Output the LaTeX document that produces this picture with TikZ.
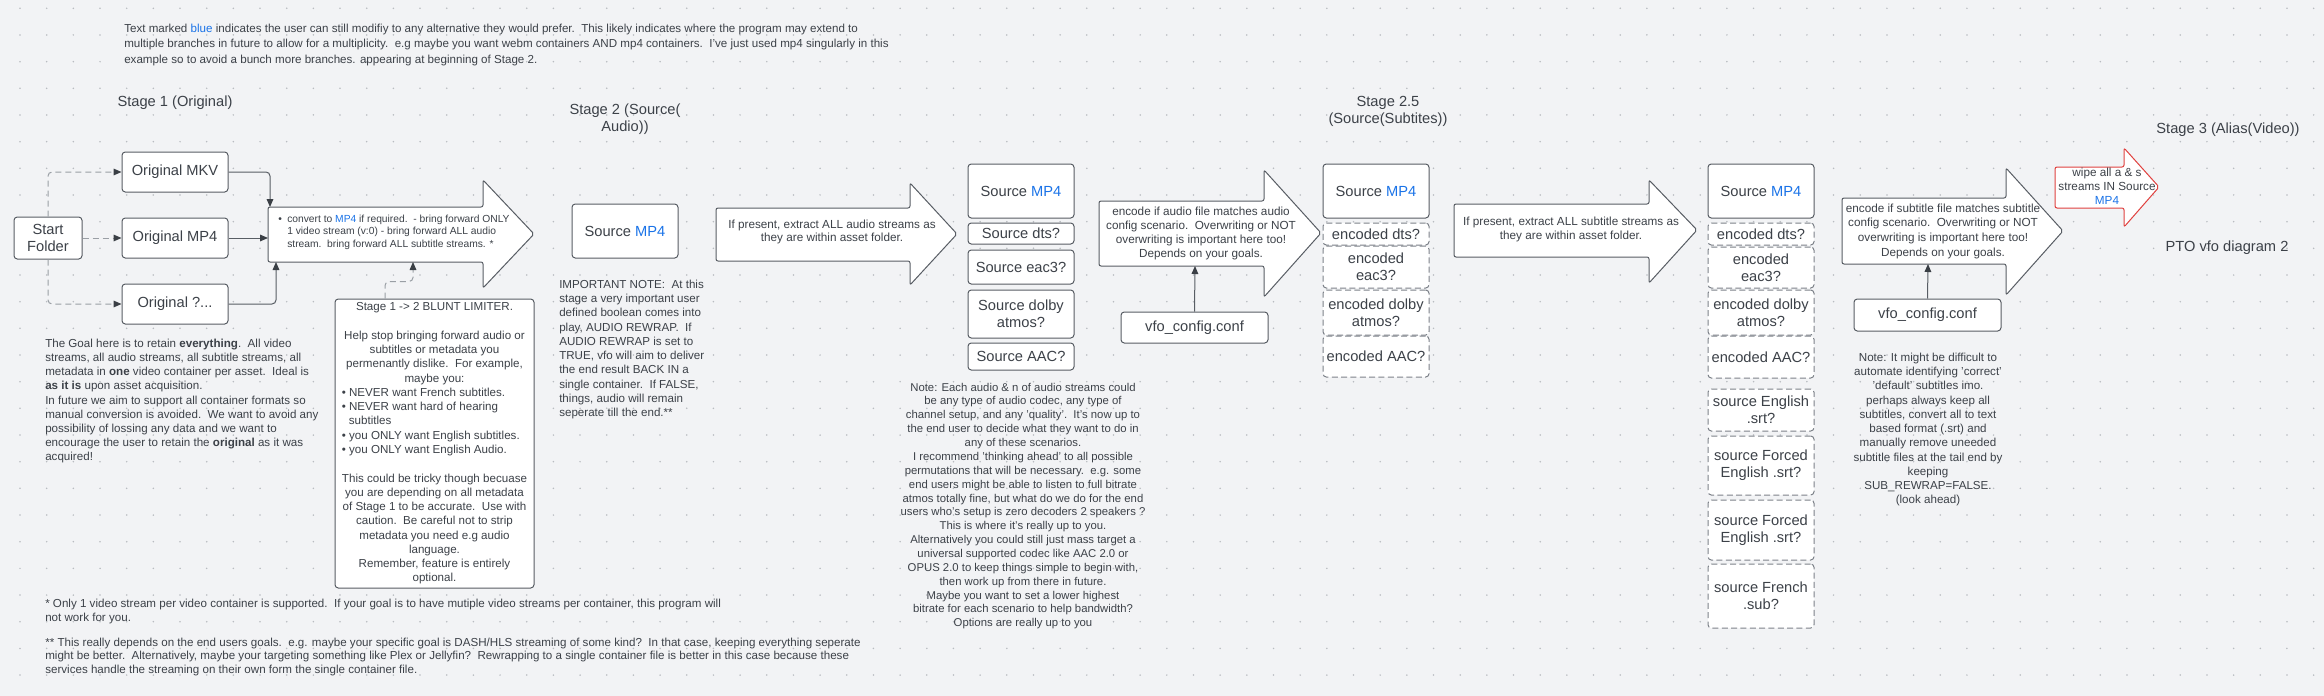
\documentclass[tikz,border=0pt]{standalone}
\usepackage{fontspec}
\setmainfont{Liberation Sans}
\usepackage{tikz}
\usetikzlibrary{arrows.meta}

\definecolor{bggrey}{HTML}{F2F3F5}
\definecolor{dotgrey}{HTML}{B9BCC1}
\definecolor{linegrey}{HTML}{585D64}
\definecolor{dashgrey}{HTML}{7D8289}
\definecolor{linkgrey}{HTML}{9A9FA5}
\definecolor{tipgrey}{HTML}{3A3F45}
\definecolor{txtgrey}{HTML}{3C4148}
\definecolor{mpblue}{HTML}{1A73E8}
\definecolor{wipered}{HTML}{E0413F}

\newlength{\pxu}
\setlength{\pxu}{0.75pt}
\newcommand{\bluemp}{\textcolor{mpblue}{MP4}}

\begin{document}
\begin{tikzpicture}[x=0.75pt, y=-0.75pt,
    % node attributes
    every node/.style = {text=txtgrey},
    srcbox/.style = {
        draw=linegrey,
        fill=white,
        rounded corners=2.5pt,
        line width=0.75pt,
        align=center,
        inner sep=0pt,
        font=\fontsize{11}{13}\selectfont},
    dashbox/.style = {srcbox, draw=dashgrey, dash pattern=on 4.5pt off 2.5pt},
    stagetitle/.style = {align=center, font=\fontsize{11}{12.75}\selectfont},
    notetext/.style = {inner sep=0pt, font=\fontsize{8.7}{10.65}\selectfont},
    % block arrows and connectors
    bigarrow/.style = {draw=linegrey, fill=white, line width=0.75pt, rounded corners=1.5pt},
    link/.style = {draw=linegrey, line width=0.75pt, rounded corners=3pt,
        -{Triangle[length=6pt, width=5pt, color=tipgrey]}},
    dashlink/.style = {link, draw=linkgrey, dash pattern=on 4.5pt off 3pt}]

    % canvas with dot grid
    \useasboundingbox (0,0) rectangle (2324,696);
    \fill[bggrey] (0,0) rectangle (2324,696);
    \foreach \i in {0,...,86}
        \foreach \j in {0,...,25}
            \fill[dotgrey] ({20+26.67*\i},{8.3+26.67*\j}) circle (0.65pt);

    % header note
    \node[notetext, font=\fontsize{8.7}{11.6}\selectfont, anchor=north west, align=left] (header) at (124,23.6)
        {Text marked \textcolor{mpblue}{blue} indicates the user can still modifiy to any alternative they would prefer.\ \ This likely indicates where the program may extend to\\
         multiple branches in future to allow for a multiplicity.\ \ e.g maybe you want webm containers AND mp4 containers.\ \ I've just used mp4 singularly in this\\
         example so to avoid a bunch more branches. appearing at beginning of Stage 2.};

    % stage titles
    \node[stagetitle] (stageone) at (175,103) {Stage 1 (Original)};
    \node[stagetitle] (stagetwo) at (625,119.5) {Stage 2 (Source(\\Audio))};
    \node[stagetitle] (stagetwofive) at (1388,111) {Stage 2.5\\(Source(Subtites))};
    \node[stagetitle] (stagethree) at (2228,130) {Stage 3 (Alias(Video))};
    \node[stagetitle] (pto) at (2227,248) {PTO vfo diagram 2};

    % stage 1 containers
    \node[srcbox, minimum width=68\pxu, minimum height=42\pxu] (start) at (48,238) {Start\\Folder};
    \node[srcbox, minimum width=106\pxu, minimum height=40\pxu] (mkv) at (175,172) {Original MKV};
    \node[srcbox, minimum width=106\pxu, minimum height=40\pxu] (mpfour) at (175,238) {Original MP4};
    \node[srcbox, minimum width=106\pxu, minimum height=40\pxu] (other) at (175,304) {Original ?...};

    % block arrows
    \draw[bigarrow] (268,207) -- (483,207) -- (483,180) -- (534,234) -- (483,288) -- (483,262) -- (268,262) -- cycle;
    \draw[bigarrow] (716,208) -- (910,208) -- (910,183) -- (957,234) -- (910,285) -- (910,261) -- (716,261) -- cycle;
    \draw[bigarrow] (1099,201) -- (1264,201) -- (1264,170) -- (1321,233) -- (1264,297) -- (1264,266) -- (1099,266) -- cycle;
    \draw[bigarrow] (1454,204) -- (1649,204) -- (1649,180) -- (1697,230) -- (1649,283) -- (1649,257) -- (1454,257) -- cycle;
    \draw[bigarrow] (1842,198) -- (2006,198) -- (2006,168) -- (2063,231) -- (2006,295) -- (2006,264) -- (1842,264) -- cycle;
    \draw[bigarrow, draw=wipered] (2055,167) -- (2124,167) -- (2124,148) -- (2159,187) -- (2124,227) -- (2124,208) -- (2055,208) -- cycle;

    \coordinate (a1mkv) at (270,207);
    \coordinate (a1mp) at (268,238);
    \coordinate (a1oth) at (276,262);
    \coordinate (a1lim) at (413,262);
    \coordinate (a3conf) at (1195,266);
    \coordinate (a5conf) at (1928,264);

    % block arrow texts
    \node[notetext, font=\fontsize{7.7}{9.4}\selectfont, anchor=north west, align=left] (convtext) at (278,214.5)
        {\makebox[6.75pt][l]{\textbullet}convert to \bluemp{} if required.\ \ - bring forward ONLY\\
         \hspace*{6.75pt}1 video stream (v:0) - bring forward ALL audio\\
         \hspace*{6.75pt}stream.\ \ bring forward ALL subtitle streams. *};
    \node[notetext, font=\fontsize{8.8}{9.75}\selectfont, align=center] (extracttext) at (832,231.5)
        {If present, extract ALL audio streams as\\they are within asset folder.};
    \node[notetext, font=\fontsize{8.8}{10.7}\selectfont, align=center] (encodetext) at (1201,233.5)
        {encode if audio file matches audio\\config scenario.\ \ Overwriting or NOT\\overwriting is important here too!\\Depends on your goals.};
    \node[notetext, font=\fontsize{8.8}{10.5}\selectfont, align=center] (subextracttext) at (1571,229)
        {If present, extract ALL subtitle streams as\\they are within asset folder.};
    \node[notetext, font=\fontsize{8.8}{11}\selectfont, align=center] (subencodetext) at (1943,231)
        {encode if subtitle file matches subtitle\\config scenario.\ \ Overwriting or NOT\\overwriting is important here too!\\Depends on your goals.};
    \node[notetext, font=\fontsize{8.8}{10.5}\selectfont, align=center] (wipetext) at (2107,186)
        {wipe all a \& s\\streams IN Source\\\bluemp};

    % stage 1 connectors
    \draw[dashlink] (start.north) |- (mkv.west);
    \draw[dashlink] (start.east) -- (mpfour.west);
    \draw[dashlink] (start.south) |- (other.west);
    \draw[link] (mkv.east) -| (a1mkv);
    \draw[link] (mpfour.east) -- (a1mp);
    \draw[link] (other.east) -| (a1oth);

    % stage 1 -> 2 limiter
    \node[srcbox, font=\fontsize{8.7}{10.7}\selectfont, minimum width=199\pxu, minimum height=289\pxu] (limiter) at (434.5,443.5)
        {Stage 1 -> 2 BLUNT LIMITER.\\[10.7pt]
         Help stop bringing forward audio or\\
         subtitles or metadata you\\
         permenantly dislike.\ \ For example,\\
         maybe you:\\
         \makebox[139pt][l]{\textbullet\ NEVER want French subtitles.}\\
         \makebox[139pt][l]{\textbullet\ NEVER want hard of hearing}\\
         \makebox[139pt][l]{\hspace*{5.3pt}subtitles}\\
         \makebox[139pt][l]{\textbullet\ you ONLY want English subtitles.}\\
         \makebox[139pt][l]{\textbullet\ you ONLY want English Audio.}\\[10.7pt]
         This could be tricky though becuase\\
         you are depending on all metadata\\
         of Stage 1 to be accurate.\ \ Use with\\
         caution.\ \ Be careful not to strip\\
         metadata you need e.g audio\\
         language.\\
         Remember, feature is entirely\\
         optional.};
    \draw[dashlink] ([xshift=-37.1pt]limiter.north) -- ++(0,-17) -| (a1lim);

    % stage 1 notes
    \node[notetext, anchor=north west, align=left] (goal) at (45,338.6)
        {The Goal here is to retain \textbf{everything}.\ \ All video\\
         streams, all audio streams, all subtitle streams, all\\
         metadata in \textbf{one} video container per asset.\ \ Ideal is\\
         \textbf{as it is} upon asset acquisition.\\
         In future we aim to support all container formats so\\
         manual conversion is avoided.\ \ We want to avoid any\\
         possibility of lossing any data and we want to\\
         encourage the user to retain the \textbf{original} as it was\\
         acquired!};
    \node[notetext, font=\fontsize{8.7}{10.5}\selectfont, anchor=north west, align=left] (footone) at (45,598.6)
        {* Only 1 video stream per video container is supported.\ \ If your goal is to have mutiple video streams per container, this program will\\
         not work for you.};
    \node[notetext, font=\fontsize{8.7}{10.1}\selectfont, anchor=north west, align=left] (foottwo) at (45,637.6)
        {** This really depends on the end users goals.\ \ e.g. maybe your specific goal is DASH/HLS streaming of some kind?\ \ In that case, keeping everything seperate\\
         might be better.\ \ Alternatively, maybe your targeting something like Plex or Jellyfin?\ \ Rewrapping to a single container file is better in this case because these\\
         services handle the streaming on their own form the single container file.};

    % stage 2 audio
    \node[srcbox, minimum width=106\pxu, minimum height=54\pxu] (srcA) at (625,231) {Source \bluemp};
    \node[notetext, font=\fontsize{8.7}{10.7}\selectfont, anchor=north west, align=left] (important) at (559,279.6)
        {IMPORTANT NOTE:\ \ At this\\
         stage a very important user\\
         defined boolean comes into\\
         play, AUDIO REWRAP.\ \ If\\
         AUDIO REWRAP is set to\\
         TRUE, vfo will aim to deliver\\
         the end result BACK IN a\\
         single container.\ \ If FALSE,\\
         things, audio will remain\\
         seperate till the end.**};

    \node[srcbox, minimum width=106\pxu, minimum height=54\pxu] (srcB) at (1021,191) {Source \bluemp};
    \node[srcbox, minimum width=106\pxu, minimum height=21\pxu] (dtsB) at (1021,233.5) {Source dts?};
    \node[srcbox, minimum width=106\pxu, minimum height=34\pxu] (eacB) at (1021,267) {Source eac3?};
    \node[srcbox, minimum width=106\pxu, minimum height=48\pxu] (atmosB) at (1021,314) {Source dolby\\atmos?};
    \node[srcbox, minimum width=106\pxu, minimum height=27\pxu] (aacB) at (1021,356.5) {Source AAC?};
    \node[notetext, font=\fontsize{8.5}{10.4}\selectfont, anchor=north, align=center] (audionote) at (1023,382.6)
        {Note: Each audio \& n of audio streams could\\
         be any type of audio codec, any type of\\
         channel setup, and any 'quality'.\ \ It's now up to\\
         the end user to decide what they want to do in\\
         any of these scenarios.\\
         I recommend 'thinking ahead' to all possible\\
         permutations that will be necessary.\ \ e.g. some\\
         end users might be able to listen to full bitrate\\
         atmos totally fine, but what do we do for the end\\
         users who's setup is zero decoders 2 speakers ?\\
         This is where it's really up to you.\\
         Alternatively you could still just mass target a\\
         universal supported codec like AAC 2.0 or\\
         OPUS 2.0 to keep things simple to begin with,\\
         then work up from there in future.\\
         Maybe you want to set a lower highest\\
         bitrate for each scenario to help bandwidth?\\
         Options are really up to you};

    \node[srcbox, minimum width=147\pxu, minimum height=31\pxu] (confA) at (1194.5,327.5) {vfo\_config.conf};
    \draw[link] (confA.north) -- (a3conf);

    % stage 2.5 subtitles
    \node[srcbox, minimum width=106\pxu, minimum height=54\pxu] (srcC) at (1376,191) {Source \bluemp};
    \node[dashbox, minimum width=106\pxu, minimum height=22\pxu] (dtsC) at (1376,234) {encoded dts?};
    \node[dashbox, minimum width=106\pxu, minimum height=42\pxu] (eacC) at (1376,267) {encoded\\eac3?};
    \node[dashbox, minimum width=106\pxu, minimum height=45\pxu] (atmosC) at (1376,312.5) {encoded dolby\\atmos?};
    \node[dashbox, minimum width=106\pxu, minimum height=41\pxu] (aacC) at (1376,356.5) {encoded AAC?};

    \node[srcbox, minimum width=106\pxu, minimum height=54\pxu] (srcD) at (1761,191) {Source \bluemp};
    \node[dashbox, minimum width=106\pxu, minimum height=22\pxu] (dtsD) at (1761,234) {encoded dts?};
    \node[dashbox, minimum width=106\pxu, minimum height=41\pxu] (eacD) at (1761,267.5) {encoded\\eac3?};
    \node[dashbox, minimum width=106\pxu, minimum height=45\pxu] (atmosD) at (1761,312.5) {encoded dolby\\atmos?};
    \node[dashbox, minimum width=106\pxu, minimum height=42\pxu] (aacD) at (1761,357) {encoded AAC?};
    \node[dashbox, minimum width=106\pxu, minimum height=42\pxu] (engD) at (1761,410) {source English\\.srt?};
    \node[dashbox, minimum width=106\pxu, minimum height=59\pxu] (forcedD) at (1761,465.5) {source Forced\\English .srt?};
    \node[dashbox, minimum width=106\pxu, minimum height=60\pxu] (forcedE) at (1761,530) {source Forced\\English .srt?};
    \node[dashbox, minimum width=106\pxu, minimum height=64\pxu] (frenchD) at (1761,596) {source French\\.sub?};

    \node[srcbox, minimum width=147\pxu, minimum height=32\pxu] (confB) at (1927.5,315) {vfo\_config.conf};
    \draw[link] (confB.north) -- (a5conf);
    \node[notetext, font=\fontsize{8.7}{10.7}\selectfont, anchor=north, align=center] (subnote) at (1928,352.6)
        {Note: It might be difficult to\\
         automate identifying 'correct'\\
         'default' subtitles imo.\\
         perhaps always keep all\\
         subtitles, convert all to text\\
         based format (.srt) and\\
         manually remove uneeded\\
         subtitle files at the tail end by\\
         keeping\\
         SUB\_REWRAP=FALSE.\\
         (look ahead)};
\end{tikzpicture}
\end{document}
